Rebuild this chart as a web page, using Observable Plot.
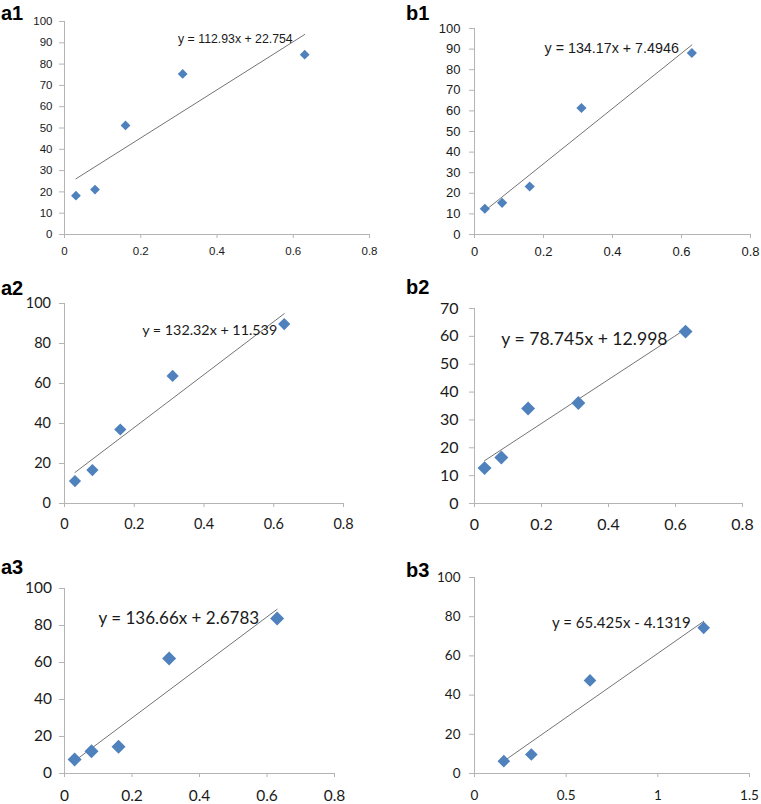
<!DOCTYPE html>
<html><head><meta charset="utf-8">
<script src="https://cdn.jsdelivr.net/npm/d3@7"></script>
<script src="https://cdn.jsdelivr.net/npm/@observablehq/plot@0.6"></script>
<style>
body{margin:0;background:#fff;}
#fig{position:relative;width:761px;height:804px;overflow:hidden;background:#fff;}
.panel{position:absolute;}
.lab{position:absolute;font:bold 20px/20px "Liberation Sans", Arial, sans-serif;color:#000;}
</style></head><body><div id="fig"></div>
<script>
// ---- data ----
const panelLabels = ["a1", "b1", "a2", "b2", "a3", "b3"];
const concX = [0.03, 0.08, 0.16, 0.31, 0.63];
const b3X = [0.16, 0.31, 0.63, 1.25];
const a1Y = [18.2, 21.1, 51.2, 75.4, 84.4];
const b1Y = [12.5, 15.4, 23.3, 61.4, 88.1];
const a2Y = [11.2, 16.7, 37.0, 63.8, 89.7];
const b2Y = [12.7, 16.5, 34.1, 36.1, 61.7];
const a3Y = [7.6, 12.0, 14.4, 62.2, 83.8];
const b3Y = [6.3, 9.7, 47.5, 74.3];
const slopes = [112.93, 134.17, 132.32, 78.745, 136.66, 65.425];
const intercepts = [22.754, 7.4946, 11.539, 12.998, 2.6783, -4.1319];
const equations = ["y = 112.93x + 22.754", "y = 134.17x + 7.4946", "y = 132.32x + 11.539",
                   "y = 78.745x + 12.998", "y = 136.66x + 2.6783", "y = 65.425x - 4.1319"];
const xTicks08 = [0, 0.2, 0.4, 0.6, 0.8];
const xTicks15 = [0, 0.5, 1, 1.5];
const yTicks100by10 = [0, 10, 20, 30, 40, 50, 60, 70, 80, 90, 100];
const yTicks100by20 = [0, 20, 40, 60, 80, 100];
const yTicks70by10 = [0, 10, 20, 30, 40, 50, 60, 70];

// ---- layout / style ----
const ARIAL = '"Liberation Sans", Arial, sans-serif';
const CALIBRI = 'Lato, "Open Sans", sans-serif';
const axisColor = "#b4b4b4";
const textColor = "#1a1a1a";
const panels = [
  {xs: concX, ys: a1Y, xt: xTicks08, yt: yTicks100by10, left: 0, top: 0, w: 380, h: 260,
   m: [21, 11, 26, 64], font: ARIAL, tf: 11.5, ef: 12.3, yPad: 7, xPad: 8, r: 4.4, edx: -12, edy: 5, lx: 1, ly: 3},
  {xs: concX, ys: b1Y, xt: xTicks08, yt: yTicks100by10, left: 380, top: 0, w: 381, h: 260,
   m: [28, 11, 26, 94], font: ARIAL, tf: 13, ef: 14.3, yPad: 9, xPad: 8, r: 4.6, edx: -13, edy: 3, lx: 406, ly: 3},
  {xs: concX, ys: a2Y, xt: xTicks08, yt: yTicks100by20, left: 0, top: 260, w: 380, h: 270,
   m: [43, 37, 27, 64], font: CALIBRI, tf: 14.5, ef: 14.3, yPad: 8.5, xPad: 11, r: 5.5, edx: -7, edy: 17, lx: 1, ly: 278},
  {xs: concX, ys: b2Y, xt: xTicks08, yt: yTicks70by10, left: 380, top: 260, w: 381, h: 270,
   m: [48, 19, 27, 94], font: CALIBRI, tf: 16, ef: 17.6, yPad: 11, xPad: 11, r: 6.3, edx: -18, edy: 10, lx: 406, ly: 277},
  {xs: concX, ys: a3Y, xt: xTicks08, yt: yTicks100by20, left: 0, top: 530, w: 380, h: 274,
   m: [58, 46, 31, 64], font: CALIBRI, tf: 15.5, ef: 17, yPad: 7.5, xPad: 12, r: 6.3, edx: -18, edy: 9, lx: 1, ly: 557},
  {xs: b3X, ys: b3Y, xt: xTicks15, yt: yTicks100by20, left: 380, top: 530, w: 381, h: 274,
   m: [47, 12, 31, 94], font: CALIBRI, tf: 13.5, ef: 15, yPad: 9, xPad: 13, r: 5.7, edx: -13, edy: 2, lx: 406, ly: 560}
];

const fig = document.getElementById("fig");
panels.forEach((p, i) => {
  const pts = p.xs.map((x, j) => ({x, y: p.ys[j]}));
  const x0 = d3.min(p.xs), x1 = d3.max(p.xs);
  const trend = [x0, x1].map(x => ({x, y: slopes[i] * x + intercepts[i]}));
  const eq = [{x: x1, y: slopes[i] * x1 + intercepts[i], t: equations[i]}];
  const fmt = d => `${d}`;
  const chart = Plot.plot({
    width: p.w, height: p.h,
    marginTop: p.m[0], marginRight: p.m[1], marginBottom: p.m[2], marginLeft: p.m[3],
    style: {overflow: "visible", background: "transparent", fontFamily: p.font},
    x: {domain: [0, p.xt[p.xt.length - 1]]},
    y: {domain: [0, p.yt[p.yt.length - 1]]},
    marks: [
      Plot.ruleY([0], {stroke: axisColor}),
      Plot.ruleX([0], {stroke: axisColor}),
      Plot.axisY(p.yt, {anchor: "left", label: null, tickSize: 5, tickPadding: p.yPad, stroke: axisColor,
        fill: textColor, fontSize: p.tf, fontFamily: p.font, tickFormat: fmt}),
      Plot.axisX(p.xt, {anchor: "bottom", label: null, tickSize: 4, tickPadding: p.xPad, stroke: axisColor,
        fill: textColor, fontSize: p.tf, fontFamily: p.font, tickFormat: fmt}),
      Plot.line(trend, {x: "x", y: "y", stroke: "#747474", strokeWidth: 1}),
      Plot.dot(pts, {x: "x", y: "y", symbol: "diamond2", r: p.r, fill: "#4f81bd"}),
      Plot.text(eq, {x: "x", y: "y", text: "t", textAnchor: "end", lineAnchor: "middle", dx: p.edx, dy: p.edy,
        fontSize: p.ef, fontFamily: p.font, fill: textColor})
    ]
  });
  chart.classList.add("panel");
  chart.style.left = p.left + "px";
  chart.style.top = p.top + "px";
  fig.appendChild(chart);
  const lab = document.createElement("div");
  lab.className = "lab";
  lab.textContent = panelLabels[i];
  lab.style.left = p.lx + "px";
  lab.style.top = p.ly + "px";
  fig.appendChild(lab);
});
</script></body></html>
